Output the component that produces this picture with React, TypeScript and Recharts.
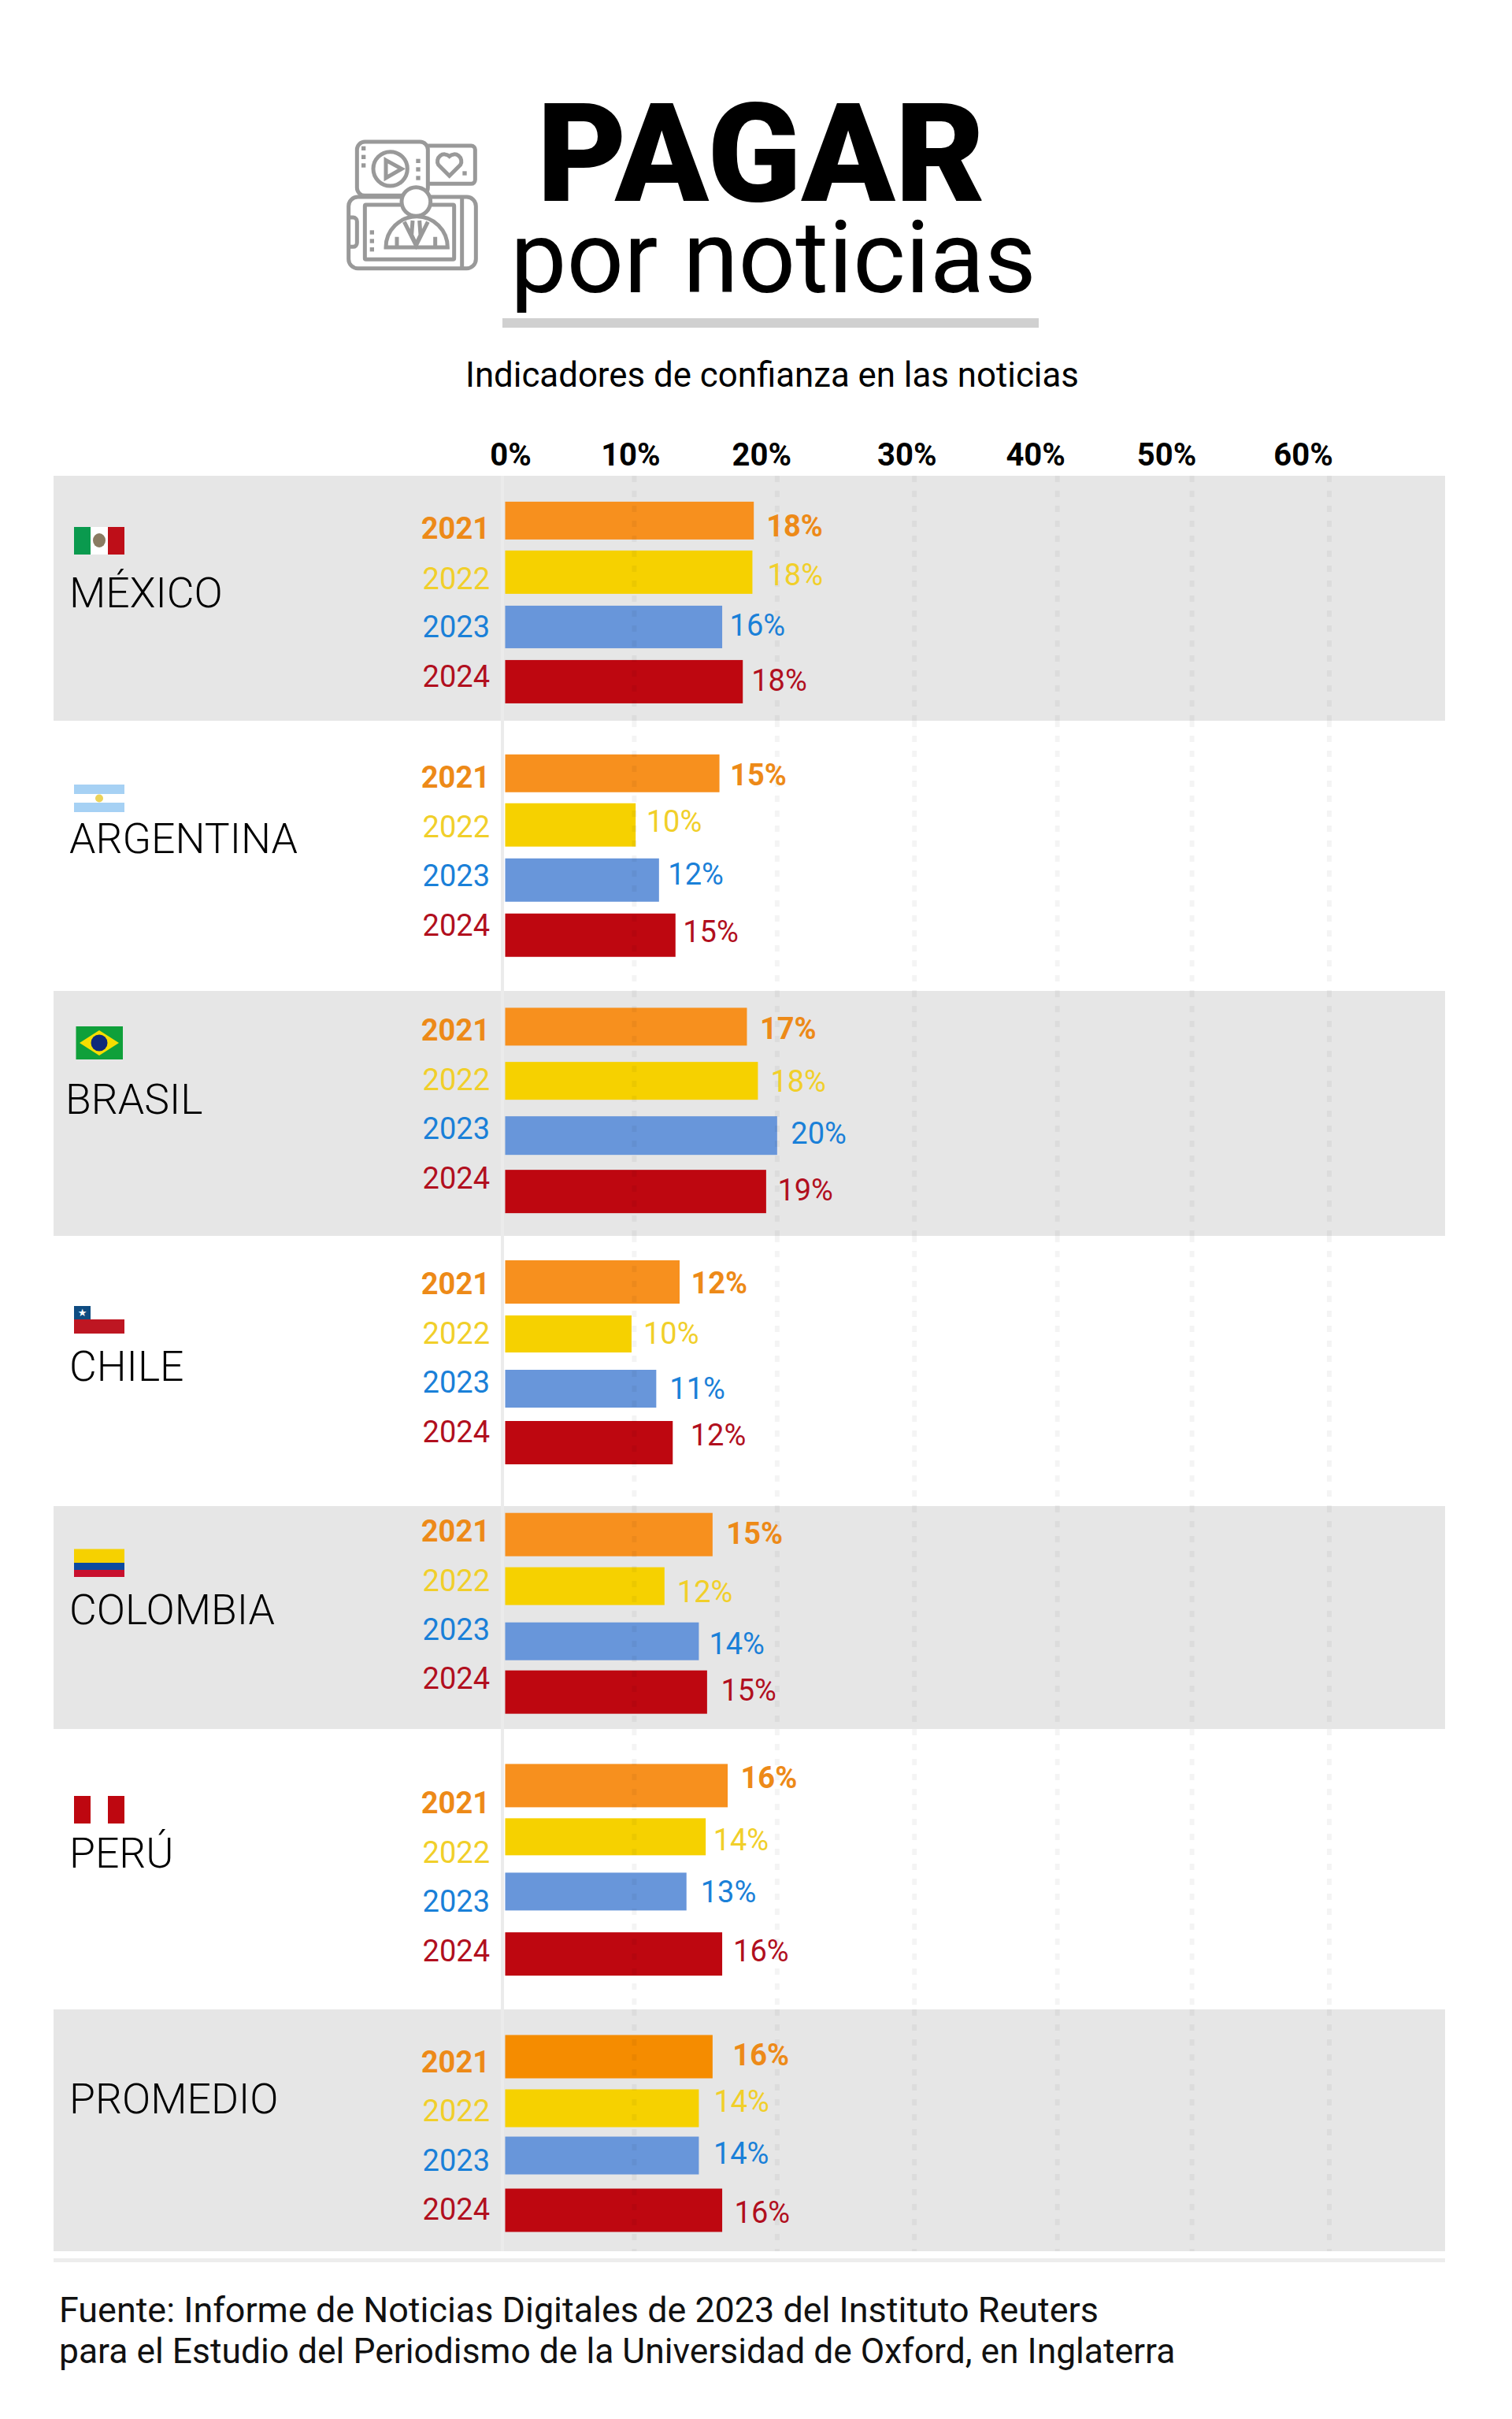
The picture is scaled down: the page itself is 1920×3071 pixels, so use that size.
import { Bar, BarChart, LabelList, ReferenceLine, XAxis, YAxis } from 'recharts';

const years = ['2021', '2022', '2023', '2024'];
const axisTicks = [0, 10, 20, 30, 40, 50, 60];
const gridValues = [9.4, 19.8, 29.8, 40.2, 50, 60];

// bar lengths; the printed labels are kept apart because the original does not match them exactly
const mexicoValues = [18.1, 18.0, 15.8, 17.3];
const argentinaValues = [15.6, 9.5, 11.2, 12.4];
const brasilValues = [17.6, 18.4, 19.8, 19.0];
const chileValues = [12.7, 9.2, 11.0, 12.2];
const colombiaValues = [15.1, 11.6, 14.1, 14.7];
const peruValues = [16.2, 14.6, 13.2, 15.8];
const promedioValues = [15.1, 14.1, 14.1, 15.8];

const mexicoLabels = ['18%', '18%', '16%', '18%'];
const argentinaLabels = ['15%', '10%', '12%', '15%'];
const brasilLabels = ['17%', '18%', '20%', '19%'];
const chileLabels = ['12%', '10%', '11%', '12%'];
const colombiaLabels = ['15%', '12%', '14%', '15%'];
const peruLabels = ['16%', '14%', '13%', '16%'];
const promedioLabels = ['16%', '14%', '14%', '16%'];

const FONT = 'Roboto';
const barColors = ['#F7901E', '#F6D100', '#6896DA', '#BE0710'];
const textColors = ['#ED8A18', '#F1CF2A', '#1A80D8', '#B10F1E'];

// layout only: band box, category padding, and the small hand offsets of the original
const mexicoLayout = { top: 604, bottom: 915, band: true, padTop: 22.9, padBottom: 15.4, barDy: [0, -2.7, -1.3, 0], barH: [48, 55, 54, 55], yearDy: [10, 5, -2, -7.5], valueDy: [7, 0, -4, -1.5], gap: [16, 19, 9.5, 11], nameY: 771, nameX: 88 };
const argentinaLayout = { top: 915, bottom: 1258, band: false, padTop: 32.75, padBottom: 36.25, barDy: [0, -3, -1.5, 0], barH: [48, 55, 55, 55], yearDy: [4, -1.5, -8, -13.5], valueDy: [2, -7.5, -9, -4.5], gap: [13.5, 13.5, 11.5, 9.5], nameY: 1083, nameX: 88 };
const brasilLayout = { top: 1258, bottom: 1569, band: true, padTop: 10.4, padBottom: 21.6, barDy: [0, -1, -1.25, 0], barH: [48, 48, 49, 55], yearDy: [3.75, -3, -10.75, -17.5], valueDy: [1.75, -1, -4.75, -2.5], gap: [16.5, 16, 17.5, 14.5], nameY: 1414, nameX: 83 };
const chileLayout = { top: 1569, bottom: 1912, band: false, padTop: 24.5, padBottom: 46.5, barDy: [0, -2, -0.5, 0], barH: [55, 47, 48, 55], yearDy: [2, -3.5, -9.5, -14.5], valueDy: [0.5, -3.5, -1, -10.5], gap: [14.5, 15, 17, 22.5], nameY: 1753, nameX: 88 };
const colombiaLayout = { top: 1912, bottom: 2195, band: true, padTop: 3.2, padBottom: 13.2, barDy: [0, -1.2, 2.2, 0], barH: [55, 48, 48, 55], yearDy: [-5, -8.7, -13.3, -17.5], valueDy: [-1.5, 5.3, 5.2, -3], gap: [17.5, 16, 13, 17.5], nameY: 2062, nameX: 88 };
const peruLayout = { top: 2195, bottom: 2551, band: false, padTop: 35.9, padBottom: 35.1, barDy: [0, -6.3, -8, 0], barH: [55, 47, 48, 55], yearDy: [21.5, 13.7, 4, -3.8], valueDy: [-10.5, -2.8, -8, -4.3], gap: [16.5, 9.5, 18, 14], nameY: 2371, nameX: 88 };
const promedioLayout = { top: 2551, bottom: 2858, band: true, padTop: 27, padBottom: 20, barDy: [0, 0.5, -4.5, 0], barH: [55, 48, 48, 55], yearDy: [6.5, 3.5, 1.5, -1.5], valueDy: [-2.5, -8.5, -7.5, 2.5], gap: [25.5, 19, 18.5, 15.5], nameY: 2683, nameX: 88 };

const rows = [
    { name: 'MÉXICO', values: mexicoValues, labels: mexicoLabels, layout: mexicoLayout },
    { name: 'ARGENTINA', values: argentinaValues, labels: argentinaLabels, layout: argentinaLayout },
    { name: 'BRASIL', values: brasilValues, labels: brasilLabels, layout: brasilLayout },
    { name: 'CHILE', values: chileValues, labels: chileLabels, layout: chileLayout },
    { name: 'COLOMBIA', values: colombiaValues, labels: colombiaLabels, layout: colombiaLayout },
    { name: 'PERÚ', values: peruValues, labels: peruLabels, layout: peruLayout },
    { name: 'PROMEDIO', values: promedioValues, labels: promedioLabels, layout: promedioLayout },
];

// axis labels in the original sit off the scale positions by these amounts
const axisLabelDx = [7, -15, -23, -13, -24, -32, -33];
const AXIS_HEIGHT = 64;
const PLOT_LEFT = 638;
const PLOT_RIGHT = 1688;
const DOMAIN_MIN = -0.2;

const AxisTick = ({ x, y, payload, index }: any) => (
    <text x={x + axisLabelDx[index]} y={y - 13} textAnchor="middle" fontFamily={FONT} fontWeight={700} fontSize={40} fill="#000">
        {`${payload.value}%`}
    </text>
);

const YearTick = ({ y, payload, index, layout }: any) => (
    <text x={622} y={y + layout.yearDy[index] + 13.5} textAnchor="end" fontFamily={FONT} fontWeight={index === 0 ? 700 : 400} fontSize={38} fill={textColors[index]}>
        {payload.value}
    </text>
);

const CountryChart = ({ row, first }: any) => {
    const { layout, values, labels } = row;
    const data = years.map((year, i) => ({ year, value: values[i], label: labels[i] }));
    const extra = first ? AXIS_HEIGHT : 0;
    const isAverage = row.name === 'PROMEDIO';

    const renderBar = ({ x, y, width, height, index }: any) => {
        const cy = y + height / 2 + layout.barDy[index];
        const h = layout.barH[index];
        const fill = isAverage && index === 0 ? '#F58C00' : barColors[index];
        return <rect x={x} y={cy - h / 2} width={width} height={h} fill={fill} />;
    };

    const renderLabel = (props: any) => {
        const box = props.viewBox ?? props;
        const { index, value } = props;
        const cy = box.y + box.height / 2 + layout.valueDy[index];
        return (
            <text x={box.x + box.width + layout.gap[index]} y={cy + 13.5} fontFamily={FONT} fontWeight={index === 0 ? 700 : 400} fontSize={38} fill={textColors[index]}>
                {value}
            </text>
        );
    };

    return (
        <div style={{ position: 'absolute', left: 0, top: layout.top - extra }}>
            <BarChart
                width={1920}
                height={layout.bottom - layout.top + extra}
                data={data}
                layout="vertical"
                margin={{ top: 0, bottom: 0, left: 0, right: 1920 - PLOT_RIGHT }}
            >
                <XAxis
                    type="number"
                    orientation="top"
                    domain={[DOMAIN_MIN, 60]}
                    ticks={axisTicks}
                    height={AXIS_HEIGHT}
                    hide={!first}
                    axisLine={false}
                    tickLine={false}
                    tickSize={0}
                    tickMargin={0}
                    interval={0}
                    tick={<AxisTick />}
                />
                <YAxis
                    type="category"
                    dataKey="year"
                    width={PLOT_LEFT}
                    axisLine={false}
                    tickLine={false}
                    padding={{ top: layout.padTop, bottom: layout.padBottom }}
                    tick={<YearTick layout={layout} />}
                />
                <ReferenceLine x={DOMAIN_MIN} stroke="#EBEBEB" strokeWidth={4} />
                {gridValues.map((v) => (
                    <ReferenceLine key={v} x={v} stroke="#000" strokeOpacity={0.045} strokeWidth={6} strokeDasharray="8 11" />
                ))}
                <Bar dataKey="value" barSize={50} isAnimationActive={false} shape={renderBar}>
                    <LabelList dataKey="label" content={renderLabel} />
                </Bar>
            </BarChart>
        </div>
    );
};

const ICON = '#999999';
const iconSquares = [[95, 55], [95, 88], [95, 120], [303, 103], [303, 135], [303, 168], [480, 150], [127, 375], [127, 408], [127, 440]];

const Icon = () => (
    <svg x={430} y={170} width={190} height={180} viewBox="0 0 570 540">
        <g fill="none" stroke={ICON} strokeWidth={15}>
            <rect x={70} y={30} width={270} height={205} rx={30} />
            <path d="M340 45H505a15 15 0 0 1 15 15V175a15 15 0 0 1-15 15H345" />
            <circle cx={197} cy={133} r={65} />
            <path d="M180 100L240 133L180 168Z" />
            <path d="M422 160L380 118a27 27 0 0 1 42-33a27 27 0 0 1 42 33Z" />
            <rect x={38} y={240} width={485} height={272} rx={35} fill="#fff" />
            <path d="M470 240V512" />
            <path d="M38 318H55a15 15 0 0 1 15 15V415a15 15 0 0 1-15 15H38" />
            <rect x={100} y={270} width={340} height={208} rx={4} />
            <path d="M180 432a117 117 0 0 1 235 0Z" />
            <path d="M250 335L295 425L340 335M282 330L278 385L295 420L312 385L308 330M222 432V392M368 432V392" />
            <circle cx={295} cy={258} r={55} fill="#fff" />
        </g>
        {iconSquares.map(([x, y]) => (
            <rect key={`${x}-${y}`} x={x - 8} y={y - 8} width={16} height={16} fill={ICON} />
        ))}
    </svg>
);

const Flags = () => (
    <g>
        {/* México */}
        <rect x={94} y={669} width={21} height={35} fill="#0A9A4E" />
        <rect x={115} y={669} width={22} height={35} fill="#fff" />
        <rect x={137} y={669} width={21} height={35} fill="#BE0E18" />
        <ellipse cx={126} cy={686} rx={8} ry={9} fill="#8A7B62" />
        {/* Argentina */}
        <rect x={94} y={996} width={64} height={35} fill="#A6D1F4" />
        <rect x={94} y={1008} width={64} height={11} fill="#fff" />
        <circle cx={126} cy={1013.5} r={5} fill="#EBD35A" />
        {/* Brasil */}
        <rect x={96.5} y={1303} width={59.5} height={42} fill="#0FA03A" />
        <path d="M126 1308L151 1324L126 1340L101 1324Z" fill="#F6DE00" />
        <circle cx={126} cy={1324} r={10.5} fill="#102A7A" />
        {/* Chile */}
        <rect x={94} y={1658} width={21} height={18} fill="#0F4C81" />
        <rect x={94} y={1675} width={64} height={18} fill="#BE1622" />
        <text x={104.5} y={1671} textAnchor="middle" fontFamily="DejaVu Sans" fontSize={13} fill="#fff">★</text>
        {/* Colombia */}
        <rect x={94} y={1966.5} width={64} height={18} fill="#F6D100" />
        <rect x={94} y={1984} width={64} height={9.5} fill="#0D4AA0" />
        <rect x={94} y={1993} width={64} height={9} fill="#C8102E" />
        {/* Perú */}
        <rect x={94} y={2280} width={21} height={35} fill="#BE0710" />
        <rect x={137} y={2280} width={21} height={35} fill="#BE0710" />
    </g>
);

const App = () => (
    <div style={{ position: 'absolute', left: 0, top: 0, width: 1920, height: 3071, background: '#fff', overflow: 'hidden' }}>
        {rows.filter((r) => r.layout.band).map((r) => (
            <div key={r.name} style={{ position: 'absolute', left: 68, top: r.layout.top, width: 1767, height: r.layout.bottom - r.layout.top, background: '#E6E6E6' }} />
        ))}
        <div style={{ position: 'absolute', left: 68, top: 2867, width: 1767, height: 5, background: '#EDEDED' }} />

        {rows.map((r, i) => (
            <CountryChart key={r.name} row={r} first={i === 0} />
        ))}

        <svg width={1920} height={3071} style={{ position: 'absolute', left: 0, top: 0, pointerEvents: 'none' }}>
            <Icon />
            <text x={682} y={255} fontFamily={FONT} fontWeight={900} fontSize={175} fill="#000">PAGAR</text>
            <text x={648} y={371} fontFamily={FONT} fontWeight={400} fontSize={127.5} fill="#000">por noticias</text>
            <rect x={638} y={404} width={681} height={12} fill="#D0D0D0" />
            <text x={591} y={491} fontFamily={FONT} fontWeight={400} fontSize={43.8} fill="#000">Indicadores de confianza en las noticias</text>
            <Flags />
            {rows.map((r) => (
                <text key={r.name} x={r.layout.nameX} y={r.layout.nameY} fontFamily={FONT} fontWeight={300} fontSize={53.5} fill="#000">
                    {r.name}
                </text>
            ))}
            <text x={75} y={2948} fontFamily={FONT} fontWeight={400} fontSize={44.9} fill="#111">Fuente: Informe de Noticias Digitales de 2023 del Instituto Reuters</text>
            <text x={75} y={3000} fontFamily={FONT} fontWeight={400} fontSize={44.4} fill="#111">para el Estudio del Periodismo de la Universidad de Oxford, en Inglaterra</text>
        </svg>
    </div>
);

export default App;
